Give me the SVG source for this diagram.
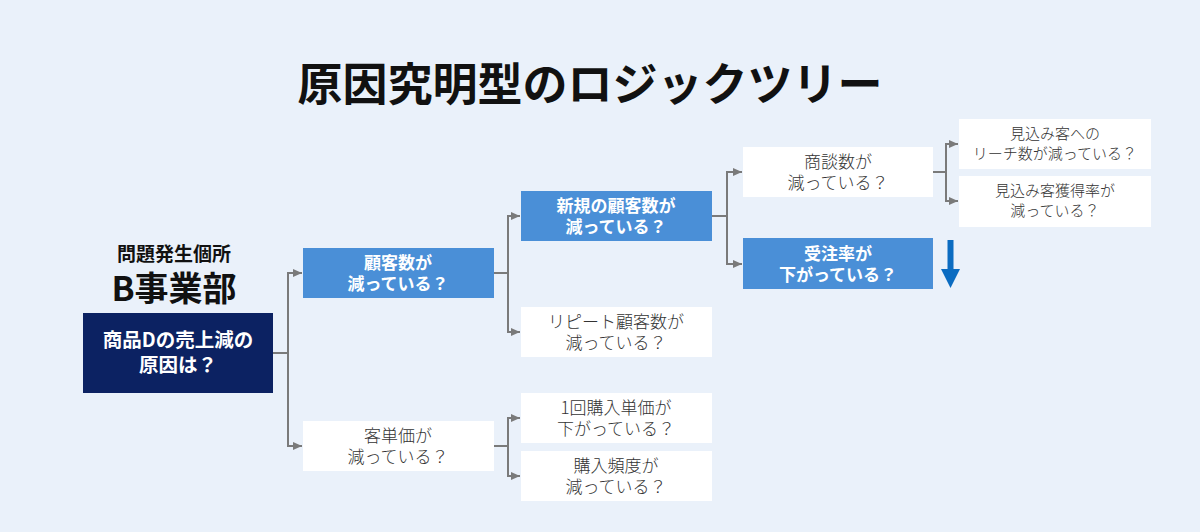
<svg xmlns="http://www.w3.org/2000/svg" width="1200" height="532" viewBox="0 0 1200 532">
<defs>
<marker id="ah" markerWidth="10" markerHeight="10" refX="9" refY="5" orient="auto" markerUnits="userSpaceOnUse">
<path d="M0,1 L9,5 L0,9 Z" fill="#7a7a7a"/>
</marker>
<style>
text{font-family:"Noto Sans CJK JP","Noto Sans",sans-serif;text-anchor:middle}
.t{font-size:45px;font-weight:700;fill:#111}
.blue{fill:#4a8fd7}
.white{fill:#ffffff}
.navy{fill:#0c2262}
.wt{font-size:17px;font-weight:700;fill:#ffffff}
.gt{font-size:17px;font-weight:300;fill:#333333}
.st{font-size:15px;font-weight:300;fill:#333333}
.c{fill:none;stroke:#7a7a7a;stroke-width:2;marker-end:url(#ah)}
</style>
</defs>
<rect width="1200" height="532" fill="#eaf1fa"/>
<text class="t" x="590" y="101">原因究明型のロジックツリー</text>
<g id="label">
<text x="174" y="261" style="font-size:19px;font-weight:700;fill:#111">問題発生個所</text>
<text x="174" y="301" style="font-size:34px;font-weight:700;fill:#111">B事業部</text>
</g>
<g id="connectors">
<path class="c" d="M273,353 H288 V273 H302"/>
<path class="c" d="M273,353 H288 V446 H302"/>
<path class="c" d="M494,273 H508 V216 H520"/>
<path class="c" d="M494,273 H508 V332 H520"/>
<path class="c" d="M494,446 H508 V418 H520"/>
<path class="c" d="M494,446 H508 V476 H520"/>
<path class="c" d="M712,216 H727 V172 H742"/>
<path class="c" d="M712,216 H727 V264 H742"/>
<path class="c" d="M933,172 H946 V144 H958"/>
<path class="c" d="M933,172 H946 V201 H958"/>
</g>
<g id="root">
<rect class="navy" x="83" y="313" width="190" height="80"/>
<text class="wt" x="178" y="347" style="font-size:19.5px">商品Dの売上減の</text>
<text class="wt" x="178" y="372" style="font-size:19.5px">原因は？</text>
</g>
<g id="n1">
<rect class="blue" x="303" y="248" width="191" height="50"/>
<text class="wt" x="398" y="269">顧客数が</text>
<text class="wt" x="398" y="290">減っている？</text>
</g>
<g id="n2">
<rect class="white" x="303" y="421" width="191" height="50"/>
<text class="gt" x="398" y="442">客単価が</text>
<text class="gt" x="398" y="463">減っている？</text>
</g>
<g id="n3">
<rect class="blue" x="521" y="191" width="191" height="50"/>
<text class="wt" x="616" y="212">新規の顧客数が</text>
<text class="wt" x="616" y="233">減っている？</text>
</g>
<g id="n4">
<rect class="white" x="521" y="307" width="191" height="50"/>
<text class="gt" x="616" y="328">リピート顧客数が</text>
<text class="gt" x="616" y="349">減っている？</text>
</g>
<g id="n5">
<rect class="white" x="521" y="393" width="191" height="50"/>
<text class="gt" x="616" y="414">1回購入単価が</text>
<text class="gt" x="616" y="435">下がっている？</text>
</g>
<g id="n6">
<rect class="white" x="521" y="451" width="191" height="50"/>
<text class="gt" x="616" y="472">購入頻度が</text>
<text class="gt" x="616" y="493">減っている？</text>
</g>
<g id="n7">
<rect class="white" x="743" y="147" width="190" height="50"/>
<text class="gt" x="838" y="168">商談数が</text>
<text class="gt" x="838" y="189">減っている？</text>
</g>
<g id="n8">
<rect class="blue" x="743" y="238" width="190" height="51"/>
<text class="wt" x="838" y="260">受注率が</text>
<text class="wt" x="838" y="281">下がっている？</text>
</g>
<g id="down-arrow">
<path d="M947.5,240 H953.5 V269 H960 L950.5,288 L941,269 H947.5 Z" fill="#0b6cc1"/>
</g>
<g id="n9">
<rect class="white" x="959" y="119" width="192" height="50"/>
<text class="st" x="1055" y="139">見込み客への</text>
<text class="st" x="1055" y="159">リーチ数が減っている？</text>
</g>
<g id="n10">
<rect class="white" x="959" y="176" width="192" height="51"/>
<text class="st" x="1055" y="196">見込み客獲得率が</text>
<text class="st" x="1055" y="216">減っている？</text>
</g>
</svg>
